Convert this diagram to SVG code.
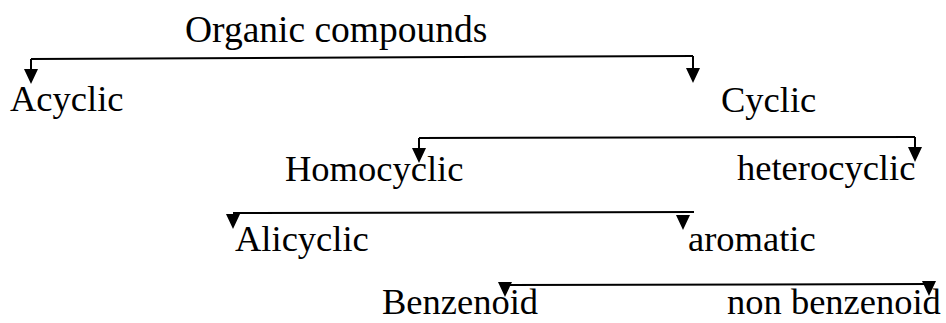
<svg xmlns="http://www.w3.org/2000/svg" xmlns:xlink="http://www.w3.org/1999/xlink" width="946" height="323" viewBox="0 0 946 323">
<defs>
<style>
.t{font-family:"Liberation Serif","Times New Roman",serif;font-size:36.5px;fill:#000}
.c{fill:none;stroke:#000;stroke-width:2}
.h{fill:#000}
</style>
<path id="tri" class="h" d="M-7,-15 L7,-15 L0,0 Z"/>
</defs>
<rect width="946" height="323" fill="#fff"/>
<g id="connectors">
<path class="c" d="M693,56 L31,59"/>
<path class="c" d="M31,59 L31,72"/>
<use href="#tri" xlink:href="#tri" x="31" y="84"/>
<path class="c" d="M693,56 L693,70"/>
<use href="#tri" xlink:href="#tri" x="693" y="83"/>
<path class="c" d="M419,138 L915,137"/>
<path class="c" d="M419,138 L419,150"/>
<use href="#tri" xlink:href="#tri" x="419" y="163"/>
<path class="c" d="M915,137 L915,149"/>
<use href="#tri" xlink:href="#tri" x="915" y="162"/>
<path class="c" d="M233,213 L694,212"/>
<use href="#tri" xlink:href="#tri" x="233" y="229"/>
<use href="#tri" xlink:href="#tri" x="683" y="230"/>
<path class="c" d="M505,285 L932,284"/>
<use href="#tri" xlink:href="#tri" x="505" y="297"/>
<use href="#tri" xlink:href="#tri" x="929" y="296"/>
</g>
<g id="organic"><text class="t" x="185" y="42" style="font-size:37.5px">Organic compounds</text></g>
<g id="acyclic"><text class="t" x="10" y="111">Acyclic</text></g>
<g id="cyclic"><text class="t" x="721" y="112">Cyclic</text></g>
<g id="homocyclic"><text class="t" x="285" y="181">Homocyclic</text></g>
<g id="heterocyclic"><text class="t" x="737" y="180">heterocyclic</text></g>
<g id="alicyclic"><text class="t" x="235" y="251">Alicyclic</text></g>
<g id="aromatic"><text class="t" x="688" y="251">aromatic</text></g>
<g id="benzenoid"><text class="t" x="382" y="314">Benzenoid</text></g>
<g id="nonbenzenoid"><text class="t" x="727" y="314">non benzenoid</text></g>
</svg>
